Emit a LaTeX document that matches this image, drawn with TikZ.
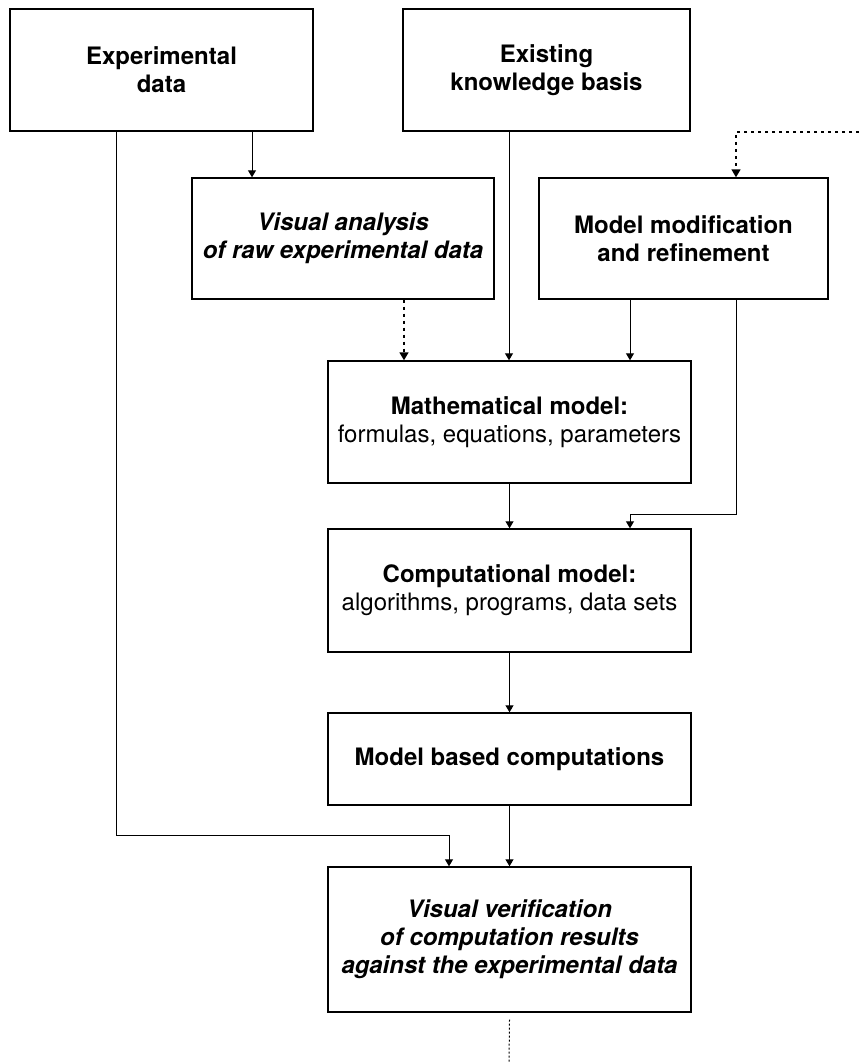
\documentclass[tikz,border=0pt]{standalone}
\usepackage{fontspec}
\setmainfont{TeX Gyre Heros}
\usetikzlibrary{arrows.meta}

\begin{document}
\begin{tikzpicture}[x=0.5pt, y=-0.5pt,
    stage/.style={draw, line width=0.7pt, align=center, inner sep=0pt, font=\fontsize{12}{14}\selectfont},
    link/.style={line width=0.5pt, -{Triangle[width=4pt,length=3.5pt]}},
    feedback/.style={line width=0.8pt, dash pattern=on 1.5pt off 2pt, -{Triangle[width=4.5pt,length=4pt]}},
    tail/.style={line width=0.5pt, dash pattern=on 1pt off 1pt}]
  \useasboundingbox (0,0) rectangle (859,1063);
  \node[stage, minimum width=151.5pt, minimum height=61pt] at (161.5,70) (exp) {\bfseries Experimental\\ \bfseries data};
  \node[stage, minimum width=143.5pt, minimum height=61pt] at (546.5,70) (know) {\bfseries Existing\\ \bfseries knowledge basis};
  \node[stage, minimum width=151pt, minimum height=60.5pt] at (343,238.5) (visual) {\bfseries\itshape Visual analysis\\ \bfseries\itshape of raw experimental data};
  \node[stage, minimum width=144.5pt, minimum height=60.5pt] at (683.5,238.5) (modify) {\bfseries Model modification\\ \bfseries and refinement};
  \node[stage, minimum width=181.5pt, minimum height=61pt] at (509.5,422) (math) {\bfseries Mathematical model:\\ formulas, equations, parameters};
  \node[stage, minimum width=181.5pt, minimum height=61.5pt] at (509.5,590.5) (comp) {\bfseries Computational model:\\ algorithms, programs, data sets};
  \node[stage, minimum width=181.5pt, minimum height=46pt] at (509.5,759) (run) {\bfseries Model based computations};
  \node[stage, minimum width=181.5pt, minimum height=72.5pt] at (509.5,939.5) (verify) {\bfseries\itshape Visual verification\\ \bfseries\itshape of computation results\\ \bfseries\itshape against the experimental data};
  \coordinate (inlet) at (859,132);
  \coordinate (outlet) at (509,1063);
  \coordinate (expbend) at (116,835);
  \coordinate (verbend) at (449,835);
  \coordinate (modbend) at (736,514);
  \coordinate (compbend) at (630,514);
  \draw[link] (exp.south -| 252,0) -- (visual.north -| 252,0);
  \draw[link] (expbend |- exp.south) -- (expbend) -- (verbend) -- (verbend |- verify.north);
  \draw[feedback] (visual.south -| 404,0) -- (math.north -| 404,0);
  \draw[link] (know.south -| 509,0) -- (math.north -| 509,0);
  \draw[link] (modify.south -| 630,0) -- (math.north -| 630,0);
  \draw[link] (modbend |- modify.south) -- (modbend) -- (compbend) -- (compbend |- comp.north);
  \draw[link] (math) -- (comp);
  \draw[link] (comp) -- (run);
  \draw[link] (run) -- (verify);
  \draw[feedback] (inlet) -| (modify.north -| 736,0);
  \draw[tail] (verify.south) ++(0,7) -- (outlet);
\end{tikzpicture}
\end{document}
